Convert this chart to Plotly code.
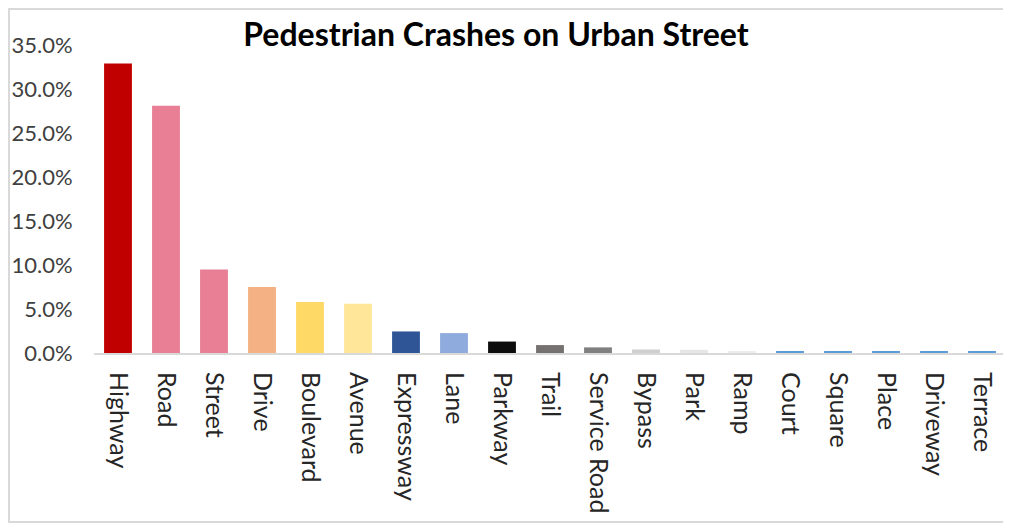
import plotly.graph_objects as go

categories = ["Highway", "Road", "Street", "Drive", "Boulevard", "Avenue", "Expressway",
              "Lane", "Parkway", "Trail", "Service Road", "Bypass", "Park", "Ramp",
              "Court", "Square", "Place", "Driveway", "Terrace"]
shares = [0.329, 0.281, 0.095, 0.075, 0.058, 0.056, 0.0245, 0.0226, 0.013, 0.009,
          0.0064, 0.004, 0.0036, 0.0017, 0.0022, 0.0022, 0.0022, 0.0022, 0.0022]
bar_colors = ["#C00000", "#E87F95", "#E87F95", "#F4B183", "#FFD966", "#FFE699", "#2F5597",
              "#8FAADC", "#0D0D0D", "#767171", "#808080", "#D0CECE", "#E7E6E6", "#EDEDED",
              "#5B9BD5", "#5B9BD5", "#5B9BD5", "#5B9BD5", "#5B9BD5"]
y_ticks = [0, 0.05, 0.10, 0.15, 0.20, 0.25, 0.30, 0.35]

# page has an 8px body margin, so the figure is offset by 8px
OFF = 8
W, H = 1011 - OFF, 525 - OFF
L, R, T, B = 94 - OFF, 5, 45 - OFF, 172

fig = go.Figure(go.Bar(
    x=categories, y=shares,
    marker=dict(color=bar_colors, line=dict(width=0)),
    hoverinfo="x+y",
))

pw = W - L - R
ph = H - T - B
fx0 = (1 - L) / pw
fx1 = (W + 10 - L) / pw
fy1 = (H - B - 1) / ph
fy0 = (H - B - (522 - OFF)) / ph

fig.update_layout(
    width=W, height=H,
    margin=dict(l=L, r=R, t=T, b=B, autoexpand=False),
    paper_bgcolor="white", plot_bgcolor="white",
    bargap=0.42,
    showlegend=False,
    font=dict(family="Lato", color="#404040"),
    title=dict(text="<b>Pedestrian Crashes on Urban Street</b>",
               font=dict(family="Lato", size=32, color="#000000"),
               x=(496 - OFF) / W, xanchor="center", xref="container",
               y=1 - (35 - OFF) / H, yanchor="middle", yref="container"),
    xaxis=dict(
        tickangle=90,
        tickfont=dict(family="Lato", size=25, color="#262626"),
        showgrid=False, zeroline=False,
        showline=True, linecolor="#D9D9D9", linewidth=2,
        ticks="outside", ticklen=12, tickcolor="rgba(0,0,0,0)",
        fixedrange=True,
    ),
    yaxis=dict(
        range=[0, 0.35],
        tickvals=y_ticks,
        tickformat=".1%",
        tickfont=dict(family="Lato", size=22, color="#404040"),
        showgrid=False, zeroline=False, showline=False,
        ticks="outside", ticklen=16, tickcolor="rgba(0,0,0,0)",
        fixedrange=True,
    ),
    shapes=[dict(type="rect", xref="paper", yref="paper",
                 x0=fx0, x1=fx1, y0=fy0, y1=fy1,
                 line=dict(color="#D9D9D9", width=2), fillcolor="rgba(0,0,0,0)",
                 layer="below")],
)

fig.write_html("out.html")
